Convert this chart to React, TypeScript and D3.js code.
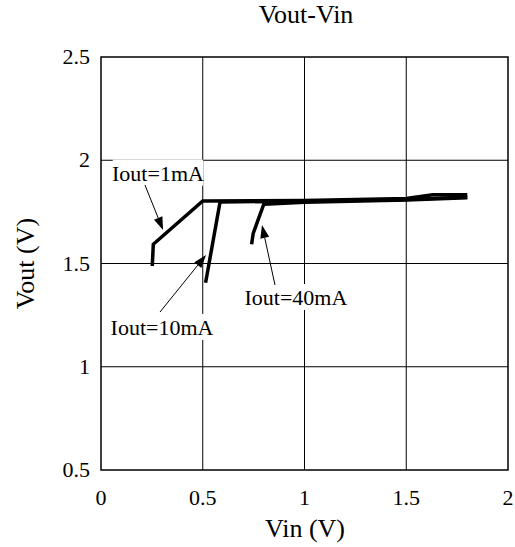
import React from "react";
import * as d3 from "d3";

const xTicks = [0, 0.5, 1, 1.5, 2];
const yTicks = [0.5, 1, 1.5, 2, 2.5];

const vin1mA = [0.252, 0.257, 0.5, 1.0, 1.5, 1.63, 1.8];
const vout1mA = [1.488, 1.593, 1.803, 1.805, 1.815, 1.833, 1.833];
const vin10mA = [0.514, 0.585, 1.0, 1.5, 1.8];
const vout10mA = [1.407, 1.798, 1.802, 1.81, 1.822];
const vin40mA = [0.74, 0.748, 0.8, 1.0, 1.5, 1.8];
const vout40mA = [1.593, 1.646, 1.787, 1.797, 1.808, 1.818];

const labelText = ["Iout=1mA", "Iout=10mA", "Iout=40mA"];
const labelX = [0.28, 0.3, 0.958];
const labelY = [1.94, 1.193, 1.338];
const arrowTail = [[0.216, 1.88], [0.29, 1.265], [0.855, 1.396]];
const arrowTip = [[0.305, 1.662], [0.516, 1.541], [0.791, 1.686]];

const W = 515, H = 547;
const ml = 101, mr = 508, mt = 57, mb = 470;
const FONT = "'Liberation Serif', 'Times New Roman', serif";

export default function App() {
  const x = d3.scaleLinear().domain([0, 2]).range([ml, mr]);
  const y = d3.scaleLinear().domain([0.5, 2.5]).range([mb, mt]);
  const line = d3.line<[number, number]>().x(d => x(d[0])).y(d => y(d[1]));
  const series = [
    d3.zip(vin1mA, vout1mA) as [number, number][],
    d3.zip(vin10mA, vout10mA) as [number, number][],
    d3.zip(vin40mA, vout40mA) as [number, number][],
  ];
  const arrows = arrowTail.map((t, i) => {
    const x1 = x(t[0]), y1 = y(t[1]);
    const x2 = x(arrowTip[i][0]), y2 = y(arrowTip[i][1]);
    const ang = Math.atan2(y2 - y1, x2 - x1);
    const hl = 13, hw = 4.5;
    const bx = x2 - hl * Math.cos(ang), by = y2 - hl * Math.sin(ang);
    const px = -Math.sin(ang) * hw, py = Math.cos(ang) * hw;
    return { x1, y1, bx, by, x2, y2, head: `${x2},${y2} ${bx + px},${by + py} ${bx - px},${by - py}` };
  });
  return (
    <svg width={W} height={H} style={{ position: "absolute", left: 0, top: 0 }}>
      <rect width={W} height={H} fill="#fff" />
      {xTicks.slice(1, -1).map(t => (
        <line key={"gx" + t} x1={x(t)} x2={x(t)} y1={mt} y2={mb} stroke="#000" strokeWidth={1} />
      ))}
      {yTicks.slice(1, -1).map(t => (
        <line key={"gy" + t} x1={ml} x2={mr} y1={y(t)} y2={y(t)} stroke="#000" strokeWidth={1} />
      ))}
      <rect x={ml} y={mt} width={mr - ml} height={mb - mt} fill="none" stroke="#000" strokeWidth={1.5} />
      {series.map((s, i) => (
        <path key={i} d={line(s) || ""} fill="none" stroke="#000" strokeWidth={3.5} strokeLinejoin="miter" />
      ))}
      {labelText.map((t, i) => {
        const w = t.length * 11.3;
        return (
          <g key={t}>
            <rect x={x(labelX[i]) - w / 2} y={y(labelY[i]) - 13} width={w} height={26} fill="#fff" />
            <text x={x(labelX[i])} y={y(labelY[i]) + 8} textAnchor="middle" fontFamily={FONT} fontSize={22}>{t}</text>
          </g>
        );
      })}
      {arrows.map((a, i) => (
        <g key={i}>
          <line x1={a.x1} y1={a.y1} x2={a.bx} y2={a.by} stroke="#000" strokeWidth={1} />
          <polygon points={a.head} fill="#000" />
        </g>
      ))}
      {xTicks.map(t => (
        <text key={"xt" + t} x={x(t)} y={505} textAnchor="middle" fontFamily={FONT} fontSize={22}>{t}</text>
      ))}
      {yTicks.map(t => (
        <text key={"yt" + t} x={90} y={y(t) + 7} textAnchor="end" fontFamily={FONT} fontSize={22}>{t}</text>
      ))}
      <text x={306} y={23} textAnchor="middle" fontFamily={FONT} fontSize={26}>Vout-Vin</text>
      <text x={305} y={537} textAnchor="middle" fontFamily={FONT} fontSize={26}>Vin (V)</text>
      <text transform={`translate(34,${(mt + mb) / 2}) rotate(-90)`} textAnchor="middle" fontFamily={FONT} fontSize={26}>Vout (V)</text>
    </svg>
  );
}
